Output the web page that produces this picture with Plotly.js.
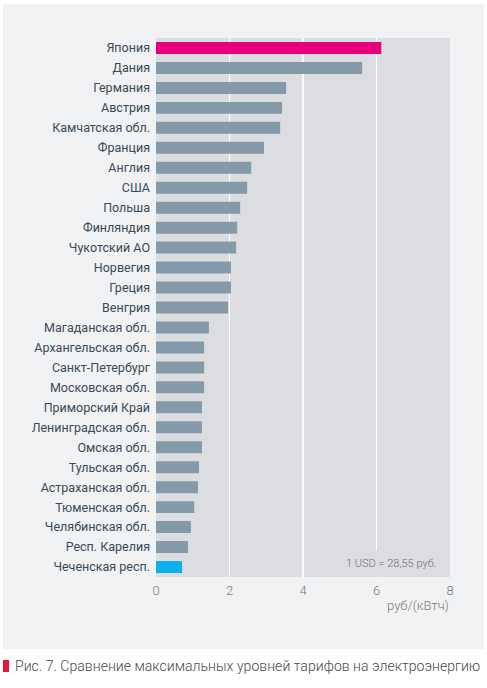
<!DOCTYPE html>
<html>
<head>
<meta charset="utf-8">
<script src="https://cdn.plot.ly/plotly-3.0.1.min.js"></script>
<style>
  html, body { margin: 0; padding: 0; background: #ffffff; }
  #chart { width: 487px; height: 688px; }
</style>
</head>
<body>
<div id="chart"></div>
<script>
  // tariffs, rub per kWh (1 USD = 28,55 rub)
  var regions = [
    'Япония', 'Дания', 'Германия', 'Австрия', 'Камчатская обл.', 'Франция',
    'Англия', 'США', 'Польша', 'Финляндия', 'Чукотский АО', 'Норвегия',
    'Греция', 'Венгрия', 'Магаданская обл.', 'Архангельская обл.',
    'Санкт-Петербург', 'Московская обл.', 'Приморский Край',
    'Ленинградская обл.', 'Омская обл.', 'Тульская обл.', 'Астраханская обл.',
    'Тюменская обл.', 'Челябинская обл.', 'Респ. Карелия', 'Чеченская респ.'
  ];
  var tariffs = [
    6.13, 5.61, 3.54, 3.43, 3.38, 2.94,
    2.59, 2.48, 2.29, 2.21, 2.18, 2.04,
    2.04, 1.96, 1.44, 1.31,
    1.31, 1.31, 1.25,
    1.25, 1.25, 1.17, 1.14,
    1.04, 0.95, 0.87, 0.71
  ];
  var xTicks = [0, 2, 4, 6, 8];

  var barColors = regions.map(function (r, i) {
    if (i === 0) return '#e6007e';
    if (i === regions.length - 1) return '#0db0ea';
    return '#849aa8';
  });

  var trace = {
    type: 'bar',
    orientation: 'h',
    x: tariffs,
    y: regions,
    marker: { color: barColors },
    hoverinfo: 'x+y'
  };

  var layout = {
    width: 487,
    height: 688,
    margin: { l: 156, r: 37, t: 38, b: 111 },
    paper_bgcolor: '#ffffff',
    plot_bgcolor: 'rgba(0,0,0,0)',
    showlegend: false,
    bargap: 0.4,
    font: { family: 'Roboto, sans-serif' },
    xaxis: {
      range: [0, 8],
      tickvals: xTicks,
      showgrid: true,
      gridcolor: '#ffffff',
      gridwidth: 1.5,
      zeroline: false,
      showline: false,
      ticks: '',
      ticklabelstandoff: 4,
      tickfont: { family: 'Roboto, sans-serif', size: 13, color: '#7a7a7a', weight: 300 },
      fixedrange: true
    },
    yaxis: {
      autorange: 'reversed',
      showgrid: false,
      zeroline: false,
      showline: false,
      ticks: '',
      ticklabelstandoff: 5,
      tickfont: { family: 'Roboto, sans-serif', size: 12.5, color: '#3a4a58' },
      fixedrange: true
    },
    shapes: [
      // outer light panel
      { type: 'rect', layer: 'below', xref: 'paper', yref: 'paper',
        x0: -0.5204, x1: 1.1156, y0: -0.1336, y1: 1.063,
        fillcolor: '#f0f2f4', line: { width: 0 } },
      // plot area background
      { type: 'rect', layer: 'below', xref: 'x', yref: 'paper',
        x0: 0, x1: 8, y0: 0, y1: 1,
        fillcolor: '#dcdde0', line: { width: 0 } },
      // red caption marker
      { type: 'rect', xref: 'paper', yref: 'paper',
        x0: -0.5204, x1: -0.5, y0: -0.1763, y1: -0.154,
        fillcolor: '#e4173e', line: { width: 0 } }
    ],
    annotations: [
      { text: '1 USD = 28,55 руб.', xref: 'x', yref: 'paper', x: 7.8, y: 0,
        xanchor: 'right', yanchor: 'bottom', showarrow: false,
        bgcolor: '#dcdde0', borderpad: 6,
        font: { family: 'Roboto, sans-serif', size: 11, color: '#6e6e6e', weight: 300 } },
      { text: 'руб/(кВтч)', xref: 'paper', yref: 'paper', x: 1.004, y: -0.035,
        xanchor: 'right', yanchor: 'top', showarrow: false,
        font: { family: 'Roboto, sans-serif', size: 13, color: '#7a7a7a', weight: 300 } },
      { text: 'Рис. 7. Сравнение максимальных уровней тарифов на электроэнергию',
        xref: 'paper', yref: 'paper', x: -0.4864, y: -0.165,
        xanchor: 'left', yanchor: 'middle', showarrow: false,
        font: { family: 'Roboto, sans-serif', size: 14.1, color: '#4a4a4a', weight: 300 } }
    ]
  };

  Plotly.newPlot('chart', [trace], layout, { displayModeBar: false, staticPlot: true });
</script>
</body>
</html>
